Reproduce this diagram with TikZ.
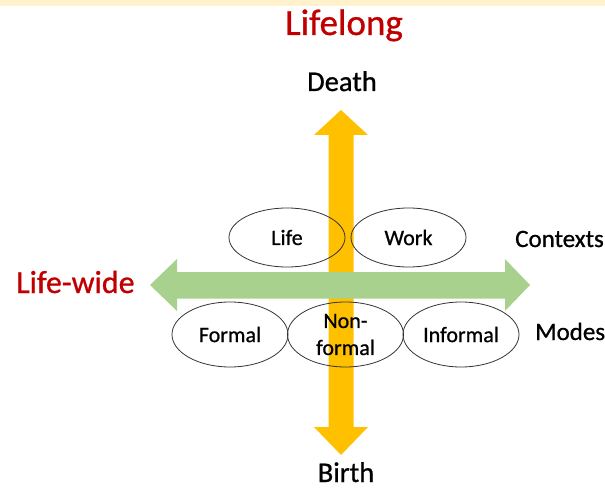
\documentclass[tikz,border=0pt]{standalone}
\usepackage{fontspec}
\setmainfont{Carlito}[FakeBold=0.8]
\usetikzlibrary{positioning,shapes.geometric}

\definecolor{lifered}{HTML}{C00000}
\definecolor{lifeyellow}{HTML}{FFC000}
\definecolor{lifegreen}{HTML}{A9D18E}
\definecolor{stripyellow}{HTML}{FFF2CC}

\tikzset{
  bigtitle/.style={text=lifered, inner sep=0pt, anchor=base, font=\fontsize{37}{40}\selectfont},
  endlabel/.style={inner sep=0pt, anchor=base, font=\fontsize{28.5}{32}\selectfont},
  sidelabel/.style={inner sep=0pt, anchor=base west, font=\fontsize{25}{28}\selectfont},
  bubble/.style={ellipse, draw=black!80, line width=0.8pt, inner sep=0pt,
    minimum width=116pt, align=center, font=\fontsize{22}{27}\selectfont},
}

\begin{document}
\begin{tikzpicture}[x=1pt, y=-1pt]
\useasboundingbox (0,0) rectangle (605,489);
\fill[stripyellow] (0,0) rectangle (605,6);

%%%%%%%%%%%%%%%%% Lifelong axis
\fill[lifeyellow] (341,110) -- (368,135) -- (353.5,135) -- (353.5,427) -- (368,427)
  -- (341,455) -- (314,427) -- (328.5,427) -- (328.5,135) -- (314,135) -- cycle;

%%%%%%%%%%%%%%%%% Life-wide axis
\fill[lifegreen] (150,285) -- (177,259) -- (177,272) -- (505,272) -- (505,259)
  -- (530,285) -- (505,311) -- (505,298.5) -- (177,298.5) -- (177,311) -- cycle;

%%%%%%%%%%%%%%%%% contexts and modes
\node[bubble, minimum height=59pt] (life) at (287,237.5) {Life};
\node[bubble, minimum height=59pt, minimum width=115pt] (work) at (408.5,237.5) {Work};
\node[bubble, minimum height=65pt] (formal) at (230,334.5) {Formal};
\node[bubble, minimum height=65pt] (nonformal) at (345.5,334.5) {Non-\\formal};
\node[bubble, minimum height=65pt] (informal) at (461,334.5) {Informal};

%%%%%%%%%%%%%%%%% labels
\node[bigtitle] (lifelong) at (344,35) {Lifelong};
\node[bigtitle, anchor=base west, font=\fontsize{32}{36}\selectfont] (lifewide) at (16,293) {Life-wide};
\node[endlabel] (death) at (342,91) {Death};
\node[endlabel] (birth) at (346,482) {Birth};
\node[sidelabel] (contexts) at (515,247) {Contexts};
\node[sidelabel] (modes) at (535,340) {Modes};
\end{tikzpicture}
\end{document}
